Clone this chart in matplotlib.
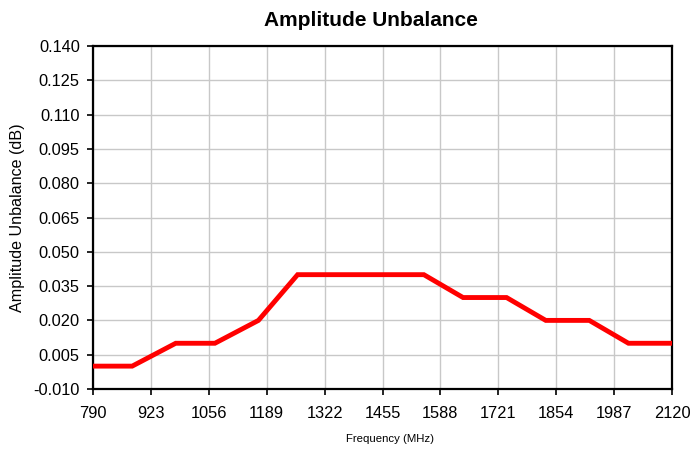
import numpy as np
import matplotlib
matplotlib.use('Agg')
import matplotlib.pyplot as plt

''' data read off the reference '''
freq = [790, 880, 980, 1070, 1170, 1260, 1550, 1640, 1740, 1830, 1930, 2020, 2120]
unbal = [0.000, 0.000, 0.010, 0.010, 0.020, 0.040, 0.040, 0.030, 0.030, 0.020, 0.020, 0.010, 0.010]
xticks = [790, 923, 1056, 1189, 1322, 1455, 1588, 1721, 1854, 1987, 2120]
yticks = np.arange(-0.010, 0.1401, 0.015)

plt.rcParams['font.family'] = ['Liberation Sans', 'DejaVu Sans']

fig = plt.figure(figsize=(6.91, 4.49), dpi=100)
ax = fig.add_axes([93/691, 1 - 389/449, (672 - 93)/691, (389 - 46)/449])

ax.plot(freq, unbal, color='#ff0000', linewidth=3.5, solid_joinstyle='miter', zorder=3)

ax.set_xlim(790, 2120)
ax.set_ylim(-0.010, 0.140)
ax.set_xticks(xticks)
ax.set_yticks(yticks)
ax.set_yticklabels(['%.3f' % v for v in yticks])
ax.grid(True, color='#c8c8c8', linewidth=1.0)
ax.set_axisbelow(True)
for s in ax.spines.values():
    s.set_linewidth(1.6)
    s.set_color('black')
ax.tick_params(direction='out', length=4.5, width=1.2, labelsize=11.8)
ax.tick_params(axis='x', pad=8)
ax.tick_params(axis='y', pad=5)

fig.text(370.5/691, 1 - 20/449, 'Amplitude Unbalance', ha='center', va='center',
         fontsize=15, fontweight='bold')
fig.text(18/691, 1 - 217.5/449, 'Amplitude Unbalance (dB)', ha='center', va='center',
         rotation=90, fontsize=11.6)
fig.text(390/691, 1 - 439/449, 'Frequency (MHz)', ha='center', va='center', fontsize=8.2)

fig.savefig('out.png', dpi=100)
